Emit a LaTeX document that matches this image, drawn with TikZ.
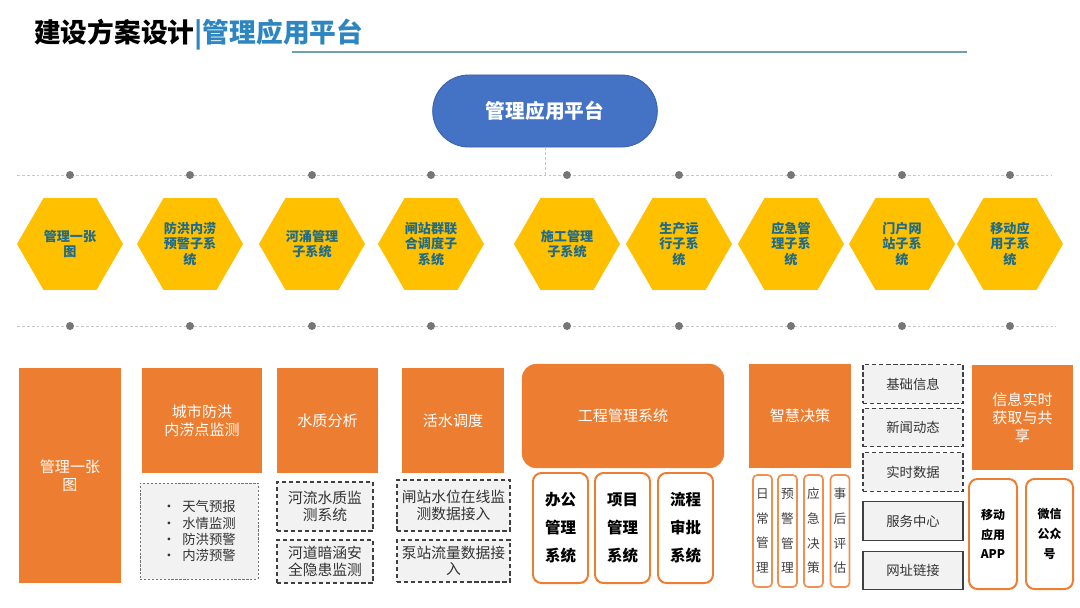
\documentclass[tikz,border=0pt]{standalone}
\usepackage{fontspec}
\setmainfont{Noto Sans CJK SC}
\usetikzlibrary{shapes.geometric,shapes.misc,positioning}
\definecolor{orng}{HTML}{ED7D31}
\definecolor{gold}{HTML}{FFC000}
\definecolor{royal}{HTML}{4472C4}
\definecolor{hextext}{HTML}{1F6B8A}
\definecolor{titleblue}{HTML}{2E86C1}
\definecolor{rulegray}{HTML}{6FA0AE}
\definecolor{paleg}{HTML}{F2F2F2}
\definecolor{dotgray}{HTML}{767676}

\begin{document}
\begin{tikzpicture}[x=0.025cm,y=-0.025cm,
 hexa/.style={regular polygon,regular polygon sides=6,minimum size=2.65cm,inner sep=0pt,fill=gold,text=hextext,align=center,font=\fontsize{9.3}{10.8}\selectfont\bfseries},
 dot/.style={circle,fill=dotgray,minimum size=0.2cm,inner sep=0pt},
 guide/.style={gray!45,line width=0.5pt,dash pattern=on 2pt off 1.5pt},
 obox/.style={fill=orng,text=white,align=center,inner sep=2pt,font=\fontsize{10.7}{13}\selectfont},
 dbox/.style={draw=black!75,line width=0.9pt,dash pattern=on 3pt off 2pt,fill=paleg,align=center,text=black!80,inner sep=1pt,font=\fontsize{10.5}{11.8}\selectfont},
 lbox/.style={dbox,draw=black!55,line width=0.6pt,dash pattern=on 1.6pt off 1.2pt,align=left,font=\fontsize{9.5}{11.5}\selectfont},
 gbox/.style={dbox,minimum width=2.5cm,minimum height=0.96cm,font=\fontsize{9.5}{11}\selectfont},
 sbox/.style={gbox,solid},
 wbox/.style={draw=orng,line width=1.4pt,rounded corners=6pt,fill=white,align=center,inner sep=0pt,minimum width=1.375cm,minimum height=2.75cm,font=\fontsize{11}{20}\selectfont\bfseries},
 nbox/.style={draw=orng!85,line width=1.2pt,rounded corners=3pt,fill=white,align=center,text=black!75,inner sep=0pt,minimum width=0.475cm,minimum height=2.8cm,font=\fontsize{9}{17.5}\selectfont}]
\useasboundingbox (0,0) rectangle (1080,607);

% title and rule
\node[anchor=west,inner sep=0pt,font=\fontsize{19}{19}\selectfont\bfseries] (title) at (34,35) {建设方案设计\textcolor{titleblue}{|管理应用平台}};
\coordinate (rulel) at (292,52);
\coordinate (ruler) at (967,52);
\draw[rulegray,line width=0.8pt] (rulel) -- (ruler);

% platform
\node[rounded rectangle,fill=royal,draw=royal!85!black,line width=0.6pt,minimum width=5.85cm,minimum height=1.8cm,text=white,font=\fontsize{14}{14}\selectfont\bfseries] (plat) at (545,111) {管理应用平台};

% guide lines
\coordinate (topl) at (17,175);
\coordinate (topr) at (1052,175);
\coordinate (botl) at (17,326);
\coordinate (botr) at (1056,326);
\draw[guide] (topl) -- (topr);
\draw[guide] (botl) -- (botr);
\draw[guide] (plat.south) -- (plat.south |- topl);
\foreach \x [count=\i] in {70,190,312,431,567,679,791,902,1010} {
  \node[dot] (td\i) at (\x,175) {};
  \node[dot] (bd\i) at (\x,326) {};
}

% subsystems
\node[hexa] (hx1) at (70,244) {管理一张\\图};
\node[hexa] (hx2) at (190,244) {防洪内涝\\预警子系\\统};
\node[hexa] (hx3) at (312,244) {河涌管理\\子系统};
\node[hexa] (hx4) at (431,244) {闸站群联\\合调度子\\系统};
\node[hexa] (hx5) at (567,244) {施工管理\\子系统};
\node[hexa] (hx6) at (679,244) {生产运\\行子系\\统};
\node[hexa] (hx7) at (791,244) {应急管\\理子系\\统};
\node[hexa] (hx8) at (902,244) {门户网\\站子系\\统};
\node[hexa] (hx9) at (1010,244) {移动应\\用子系\\统};

% function blocks
\node[obox,minimum width=2.55cm,minimum height=5.375cm] (map) at (70,475.5) {管理一张\\图};
\node[obox,minimum width=3cm,minimum height=2.625cm] (flood) at (202,420.5) {城市防洪\\内涝点监测};
\node[lbox,minimum width=2.95cm,minimum height=2.4cm] (floodlist) at (199,531) {•\enspace 天气预报\\•\enspace 水情监测\\•\enspace 防洪预警\\•\enspace 内涝预警};
\node[obox,minimum width=2.525cm,minimum height=2.625cm] (quality) at (327.5,420.5) {水质分析};
\node[dbox,minimum width=2.4cm,minimum height=1.225cm] (river) at (325,506.5) {河流水质监\\测系统};
\node[dbox,minimum width=2.4cm,minimum height=1.075cm] (culvert) at (325,561.5) {河道暗涵安\\全隐患监测};
\node[obox,minimum width=2.55cm,minimum height=2.625cm] (dispatch) at (453,420.5) {活水调度};
\node[dbox,minimum width=2.825cm,minimum height=1.275cm] (gate) at (453.5,505.5) {闸站水位在线监\\测数据接入};
\node[dbox,minimum width=2.825cm,minimum height=1.05cm] (pump) at (453.5,561) {泵站流量数据接\\入};
\node[obox,rounded corners=10pt,minimum width=5.05cm,minimum height=2.6cm] (eng) at (623,416) {工程管理系统};
\node[wbox] (office) at (560.5,528) {办公\\管理\\系统};
\node[wbox] (project) at (622.5,528) {项目\\管理\\系统};
\node[wbox] (approve) at (685.5,528) {流程\\审批\\系统};
\node[obox,minimum width=2.55cm,minimum height=2.6cm] (decide) at (800,416) {智慧决策};
\node[nbox] (daily) at (762.5,531) {日\\常\\管\\理};
\node[nbox] (warn) at (787.5,531) {预\\警\\管\\理};
\node[nbox] (emerg) at (813.5,531) {应\\急\\决\\策};
\node[nbox] (assess) at (840,531) {事\\后\\评\\估};
\node[gbox] (base) at (913,384) {基础信息};
\node[gbox] (news) at (913,427.5) {新闻动态};
\node[gbox] (live) at (913,472) {实时数据};
\node[sbox] (service) at (913,521) {服务中心};
\node[sbox] (link) at (913,570.5) {网址链接};
\node[obox,minimum width=2.525cm,minimum height=2.625cm] (share) at (1022.5,417.5) {信息实时\\获取与共\\享};
\node[wbox,minimum width=1.2cm,font=\fontsize{8.5}{14}\selectfont\bfseries] (app) at (993,534) {移动\\应用\\APP};
\node[wbox,minimum width=1.175cm,font=\fontsize{8.5}{14}\selectfont\bfseries] (wechat) at (1049.5,534) {微信\\公众\\号};
\end{tikzpicture}
\end{document}
